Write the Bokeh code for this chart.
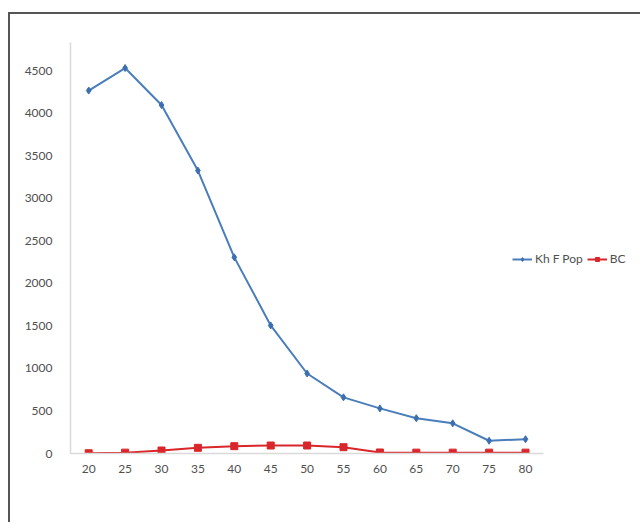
from bokeh.plotting import figure
from bokeh.models import FixedTicker, Range1d, Legend, LegendItem
from bokeh.embed import file_html
from bokeh.resources import INLINE

ages = [20, 25, 30, 35, 40, 45, 50, 55, 60, 65, 70, 75, 80]
kh_f_pop = [4265, 4530, 4095, 3325, 2305, 1505, 940, 660, 530, 415, 355, 150, 168]
bc = [3, 10, 35, 67, 86, 94, 94, 74, 12, 10, 10, 10, 10]
y_ticks = [0, 500, 1000, 1500, 2000, 2500, 3000, 3500, 4000, 4500]

BLUE = "#4a7ebb"
RED = "#d9262a"

p = figure(width=632, height=510, output_backend="svg", toolbar_location=None,
           x_range=Range1d(17.5, 96.07), y_range=Range1d(0, 4830),
           min_border_left=60, min_border_right=0, min_border_top=28, min_border_bottom=71)
p.margin = (12, 0, 0, 8)
p.styles = {"border-top": "2px solid #555555", "border-left": "2px solid #555555"}
p.outline_line_color = None
p.xgrid.visible = False
p.ygrid.visible = False
p.background_fill_color = "white"
p.border_fill_color = "white"

for ax in (p.xaxis[0], p.yaxis[0]):
    ax.axis_line_color = "#d9d9d9"
    ax.axis_line_width = 1.5
    ax.major_tick_line_color = None
    ax.minor_tick_line_color = None
    ax.major_label_text_color = "#505050"
    ax.major_label_text_font = "Lato"
    ax.major_label_text_font_size = "12px"

p.xaxis[0].ticker = FixedTicker(ticks=ages)
p.xaxis[0].bounds = (17.5, 82.5)
p.yaxis[0].ticker = FixedTicker(ticks=y_ticks)
p.xaxis[0].major_label_standoff = 5
p.yaxis[0].major_label_standoff = 12

l1 = p.line(ages, kh_f_pop, line_color=BLUE, line_width=2)
m1 = p.scatter(ages, kh_f_pop, marker="diamond", size=7, fill_color="#3c6fb0", line_color="#3c6fb0")
l2 = p.line(ages, bc, line_color=RED, line_width=2)
m2 = p.scatter(ages, bc, marker="square", size=7, fill_color=RED, line_color=RED)

legend = Legend(items=[LegendItem(label="Kh F Pop", renderers=[l1, m1]),
                       LegendItem(label="BC", renderers=[l2, m2])],
                orientation="horizontal", location=(442, 187),
                label_text_font="Lato", label_text_font_size="12px",
                label_text_color="#505050", glyph_width=20, glyph_height=10,
                label_standoff=3, spacing=4, padding=2, margin=0,
                border_line_color=None, background_fill_alpha=0)
p.add_layout(legend, "center")

open("out.html", "w").write(file_html(p, INLINE))
